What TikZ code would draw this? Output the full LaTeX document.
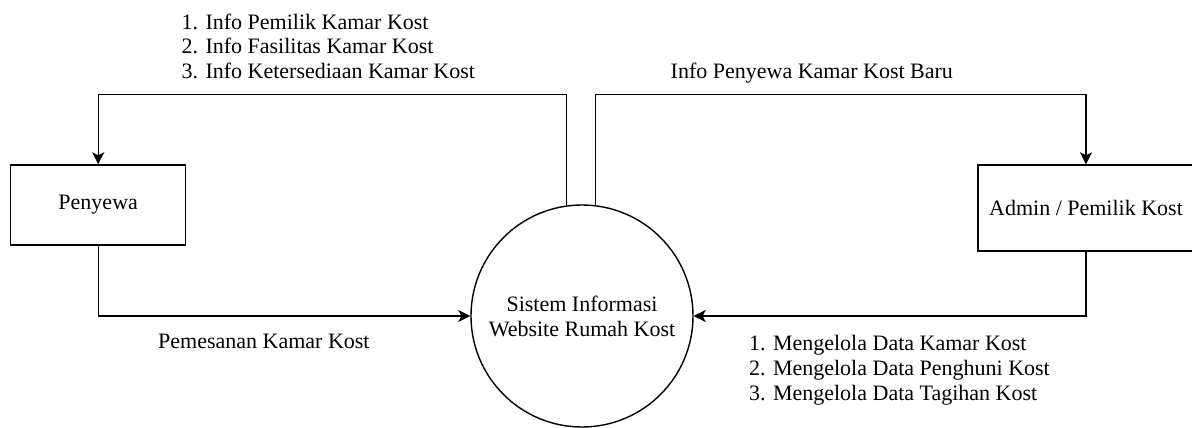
\documentclass[tikz,border=0pt]{standalone}
\usepackage{fontspec}
\setmainfont{Liberation Serif}
\usetikzlibrary{arrows.meta,calc}

\tikzset{
  lbl/.style={font=\fontsize{22}{25}\selectfont, inner sep=0pt},
  entity/.style={draw, line width=1.4pt, rectangle, lbl, align=center},
  proc/.style={draw, line width=1.4pt, circle, lbl, align=center, inner sep=0pt},
  flow/.style={line width=1.4pt, -{Stealth[length=12pt, width=12pt, inset=3pt]}},
}

\begin{document}
\begin{tikzpicture}[x=1pt, y=-1pt]
  \useasboundingbox (0,0) rectangle (1192,428);
  \clip (0,0) rectangle (1192,428);

  % external entities and the process
  \node[entity, minimum width=175pt, minimum height=80pt] (pen) at (98.2,205) {Penyewa};
  \node[entity, minimum width=216pt, minimum height=86pt] (adm) at (1086,208) {Admin / Pemilik Kost};
  \node[proc, minimum size=222pt] (sys) at (582,316) {Sistem Informasi\\Website Rumah Kost};

  \coordinate (topL) at (300,94.3);

  % data flows
  \draw[flow] (sys.98.3) -- (sys.98.3 |- topL) -| (pen.north);
  \draw[flow] (sys.83.4) -- (sys.83.4 |- topL) -| (adm.north);
  \draw[flow] (pen.south) |- (sys.west);
  \draw[flow] (adm.south) |- (sys.east);

  % flow labels (base anchor sits on the last line)
  \node[lbl, anchor=base west, align=left] (l1) at (181.5,79)
    {1. Info Pemilik Kamar Kost\\2. Info Fasilitas Kamar Kost\\3. Info Ketersediaan Kamar Kost};
  \node[lbl, anchor=base west] (l2) at (670.5,78) {Info Penyewa Kamar Kost Baru};
  \node[lbl, anchor=base west] (l3) at (158,348) {Pemesanan Kamar Kost};
  \node[lbl, anchor=base west, align=left] (l4) at (749,400)
    {1. Mengelola Data Kamar Kost\\2. Mengelola Data Penghuni Kost\\3. Mengelola Data Tagihan Kost};
\end{tikzpicture}
\end{document}
